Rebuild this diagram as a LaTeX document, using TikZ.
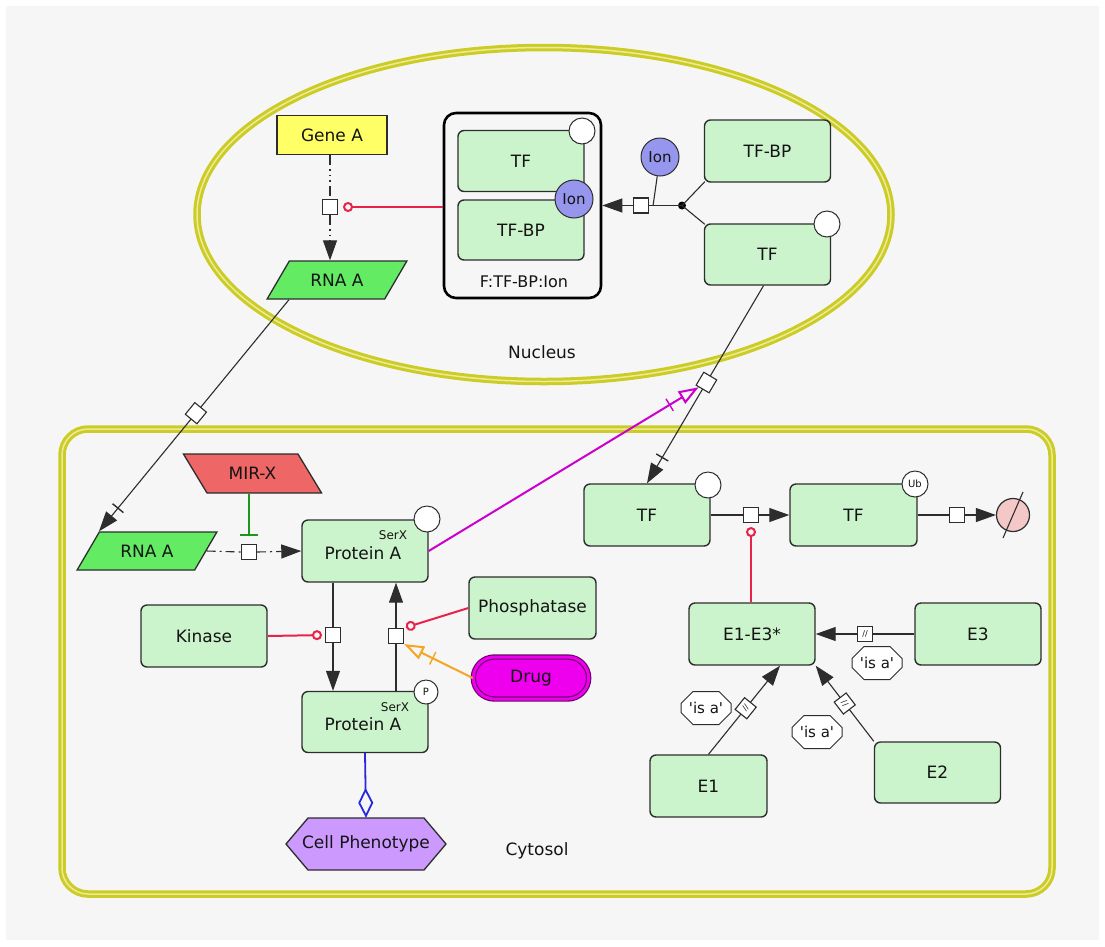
\documentclass[tikz,border=0pt]{standalone}
\usepackage{fontspec}
\setmainfont{DejaVu Sans}
\newfontfamily\plainfont{DejaVu Sans}
\usetikzlibrary{arrows.meta,shapes.geometric,shapes.misc,calc}
\definecolor{bgc}{RGB}{246,246,246}
\definecolor{compc}{RGB}{204,204,40}
\definecolor{compin}{RGB}{236,236,150}
\definecolor{pnode}{RGB}{204,244,204}
\definecolor{rnag}{RGB}{100,235,100}
\definecolor{mirc}{RGB}{238,102,102}
\definecolor{genec}{RGB}{255,255,102}
\definecolor{ionc}{RGB}{150,150,238}
\definecolor{drugc}{RGB}{238,0,238}
\definecolor{drugd}{RGB}{110,0,110}
\definecolor{phenc}{RGB}{204,153,255}
\definecolor{degc}{RGB}{245,200,200}
\definecolor{modred}{RGB}{232,35,74}
\definecolor{stimmag}{RGB}{204,0,204}
\definecolor{orangec}{RGB}{245,166,35}
\definecolor{bluec}{RGB}{40,40,225}
\definecolor{inhg}{RGB}{30,150,30}
\definecolor{edgec}{RGB}{45,45,45}
\definecolor{txtc}{RGB}{20,20,20}
\newcommand\mytick[4]{%
  \coordinate (tk) at ($(#1)!#3!(#2)$);
  \draw[#4, line width=1.4pt] ($(tk)!7pt!90:(#1)$) -- ($(tk)!7pt!-90:(#1)$);
}
\tikzset{
  fnt/.style={font=\fontsize{17}{20}\selectfont, text=txtc},
  sfnt/.style={font=\fontsize{12}{14}\selectfont, text=txtc},
  mac/.style={rectangle, rounded corners=6pt, draw=edgec, line width=1.4pt, fill=pnode, minimum width=126pt, minimum height=62pt, inner sep=0pt, fnt},
  uinfo/.style={circle, draw=edgec, fill=white, line width=1pt, minimum size=26pt, inner sep=0pt, font=\fontsize{10}{12}\selectfont, text=txtc},
  ion/.style={circle, draw=edgec, fill=ionc, line width=1pt, minimum size=38pt, inner sep=0pt, font=\fontsize{15}{18}\selectfont, text=txtc},
  proc/.style={rectangle, draw=edgec, fill=white, line width=1.1pt, minimum size=15pt, inner sep=0pt, font=\fontsize{8}{8}\selectfont, text=txtc},
  rna/.style={trapezium, trapezium left angle=45, trapezium right angle=135, trapezium stretches=true, draw=edgec, line width=1.3pt, fill=rnag, minimum width=140pt, minimum height=38pt, inner sep=0pt, fnt},
  cplxs/.style={rectangle, rounded corners=12pt, draw=black, line width=2.6pt, fill=bgc, minimum width=157pt, minimum height=185pt},
  isa/.style={chamfered rectangle, chamfered rectangle xsep=6pt, chamfered rectangle ysep=6pt, draw=edgec, line width=1pt, fill=white, minimum width=50pt, minimum height=33pt, inner sep=1pt, font=\plainfont\fontsize{15}{17}\selectfont, text=txtc},
  comp/.style={draw=compc, line width=3pt, double=compin, double distance=1.5pt},
  lnk/.style={draw=edgec, line width=1.1pt},
  tipf/.style={-{Triangle[length=20pt,width=14pt]}},
  ddline/.style={dash pattern=on 9pt off 4pt on 2pt off 4pt},
  dotline/.style={dash pattern=on 10pt off 4pt on 1.5pt off 4pt on 1.5pt off 4pt on 1.5pt off 4pt},
  modl/.style={draw=modred, line width=2pt, -{Circle[open,length=10pt]}},
  nstim/.style={line width=2pt, -{Triangle[open,length=20pt,width=14pt]}},
  inhib/.style={draw=inhg, line width=2pt, -{Bar[width=18pt]}, shorten >=8pt},
  bluel/.style={draw=bluec, line width=1.8pt, -{Diamond[open,length=30pt,width=15pt]}}
}
\begin{document}
\begin{tikzpicture}[x=1pt,y=-1pt]
\useasboundingbox (0,0) rectangle (1105,946);
\fill[white] (0,0) rectangle (1105,946);
\fill[bgc] (6,6) rectangle (1099,940);
% compartments
\draw[comp] (544,214.5) ellipse [x radius=347, y radius=167];
\draw[comp, rounded corners=26pt] (62,429) rectangle (1052,894);
\node[fnt] (nucl) at (542,352) {Nucleus};
\node[fnt] (cyto) at (537,851) {Cytosol};

% ---------- nucleus ----------
\node[rectangle, draw=edgec, line width=1.3pt, fill=genec, minimum width=110pt, minimum height=39pt, fnt] (geneA) at (332,135) {Gene A};
\node[proc] (p1) at (330,207) {};
\node[rna] (rnaN) at (337,280) {RNA A};
\node[cplxs] (cplx) at (522.5,205.5) {};
\node[fnt, font=\fontsize{16}{19}\selectfont] (cplxl) at (524,282) {F:TF-BP:Ion};
\node[mac, minimum height=61pt] (cTF) at (521,161) {TF};
\node[uinfo] (cTFui) at (582,131) {};
\node[mac, minimum height=60pt] (cBP) at (521,230) {TF-BP};
\node[ion] (cIon) at (574,199) {Ion};
\node[proc] (p2) at (641,205.5) {};
\node[circle, fill=black, minimum size=8pt, inner sep=0pt] (dot) at (682,205.5) {};
\node[ion] (ionF) at (660,157) {Ion};
\node[mac] (tfbpN) at (767.5,151) {TF-BP};
\node[mac, minimum height=61pt] (tfN) at (767.5,254.5) {TF};
\node[uinfo] (tfNui) at (827,224) {};
\coordinate (ionL) at ([xshift=4pt]p2.east);

\draw[lnk, dotline] (geneA.south -| p1) -- (p1.north);
\draw[lnk, dotline, tipf] (p1.south) -- (p1.south |- rnaN.north);
\draw[modl, shorten >=5pt] (cplx.west |- p1) -- (p1.east);
\draw[lnk] (dot.center) -- (p2.east);
\draw[lnk, tipf] (p2.west) -- (cplx.east |- p2);
\draw[lnk] (ionF) -- (ionL);
\draw[lnk] (dot.center) -- ([shift={(1,-1)}]tfbpN.south west);
\draw[lnk] (dot.center) -- ([shift={(1,1)}]tfN.north west);

% ---------- cytosol ----------
\node[rna] (rnaC) at (147,551) {RNA A};
\node[rna, fill=mirc, trapezium left angle=135, trapezium right angle=45, minimum width=139pt, minimum height=39pt] (mir) at (252.5,473.5) {MIR-X};
\node[proc] (p3) at (249,552) {};
\node[mac] (protA) at (365,551) {};
\node[fnt] (protAt) at (363,553) {Protein A};
\node[sfnt] (serxA) at (393,535) {SerX};
\node[uinfo] (protAui) at (427,519) {};
\node[mac] (kin) at (204,636) {Kinase};
\node[proc] (p4) at (333,635) {};
\node[proc] (p5) at (396,636) {};
\node[mac, minimum width=127pt] (phos) at (532.5,608) {Phosphatase};
\node[rounded rectangle, draw=drugd, line width=1.2pt, double=drugc, double distance=3pt, fill=drugc, minimum width=122pt, minimum height=42pt, fnt] (drug) at (531,678) {Drug};
\node[mac, minimum height=61pt] (protP) at (365,722) {};
\node[fnt] (protPt) at (363,724) {Protein A};
\node[sfnt] (serxP) at (395,707) {SerX};
\node[uinfo, minimum size=24pt] (protPui) at (426,692) {P};
\draw[edgec, line width=1.3pt, fill=phenc] (286,844) -- (308,818) -- (424,818) -- (446,844) -- (424,870) -- (308,870) -- cycle;
\node[fnt, minimum width=160pt, minimum height=52pt, inner sep=0pt] (phen) at (366,844) {Cell Phenotype};

% RNA transport
\coordinate (rs) at ([xshift=23pt]rnaN.bottom left corner);
\coordinate (re) at (rnaC.top left corner);
\draw[lnk, tipf] (rs) -- node[proc, sloped, pos=0.49] (p0) {} (re);
\mytick{re}{rs}{30pt}{edgec}

\draw[lnk, ddline] (rnaC.east) -- (p3.west);
\draw[lnk, ddline, tipf] (p3.east) -- (protA.west);
\draw[inhib] (p3 |- mir.south) -- (p3.north);

\draw[modl, shorten >=3pt] (kin.east) -- (p4.west);
\draw[lnk] (protA.south -| p4) -- (p4.north);
\draw[lnk, tipf] (p4.south) -- (p4 |- protP.north);
\draw[lnk] (protP.north -| p5) -- (p5.south);
\draw[lnk, tipf] (p5.north) -- (p5 |- protA.south);
\draw[modl, shorten >=2pt] (phos.west) -- (p5.north east);
\draw[nstim, draw=orangec] (drug.west) -- (p5.south east);
\mytick{p5.south east}{drug.west}{32pt}{orangec}
\draw[bluel] (protP.south) -- (phen.north);

% TF side
\node[mac] (tfC) at (647,515) {TF};
\node[uinfo] (tfCui) at (708,485) {};
\node[proc] (p6) at (751,515) {};
\node[mac, minimum width=127pt] (tfU) at (853.5,515) {TF};
\node[uinfo] (tfUui) at (915,484) {Ub};
\node[proc] (p7) at (957,515) {};
\node[circle, draw=edgec, fill=degc, line width=1.2pt, minimum size=33pt, inner sep=0pt] (deg) at (1013,515) {};
\draw[lnk] ($(deg)+(-10,23)$) -- ($(deg)+(10,-23)$);

\coordinate (ts) at ([xshift=-4pt]tfN.south);
\coordinate (te) at (tfC.north);
\draw[lnk, tipf] (ts) -- node[proc, sloped, pos=0.49] (p8) {} (te);
\mytick{te}{ts}{30pt}{edgec}
\draw[nstim, draw=stimmag] (protA.east) -- (p8);
\mytick{p8}{protA.east}{43pt}{stimmag}

\draw[lnk] (tfC.east) -- (p6.west);
\draw[lnk, tipf] (p6.east) -- (tfU.west);
\draw[lnk] (tfU.east) -- (p7.west);
\draw[lnk, tipf] (p7.east) -- (deg.west);

\node[mac] (e13) at (752,634) {E1-E3*};
\node[mac] (e3) at (978,634) {E3};
\node[mac, minimum width=117pt] (e1) at (708.5,786) {E1};
\node[mac, minimum height=61pt] (e2) at (937.5,772.5) {E2};
\draw[modl, shorten >=4pt] (e13.north -| p6) -- (p6.south);

\draw[lnk, tipf] (e3.west) -- node[proc, pos=0.5] (p9) {//} (e13.east);
\node[isa] (l3) at (877,663) {'is a'};
\coordinate (e1t) at ([xshift=28pt]e13.south);
\draw[lnk, tipf] (e1.north) -- node[proc, sloped, pos=0.52] (p10) {//} (e1t);
\node[isa] (l1) at (706,708) {'is a'};
\draw[lnk, tipf] (e2.north west) -- node[proc, sloped, pos=0.5] (p11) {//} (e13.south east);
\node[isa] (l2) at (817,732) {'is a'};
\end{tikzpicture}
\end{document}
